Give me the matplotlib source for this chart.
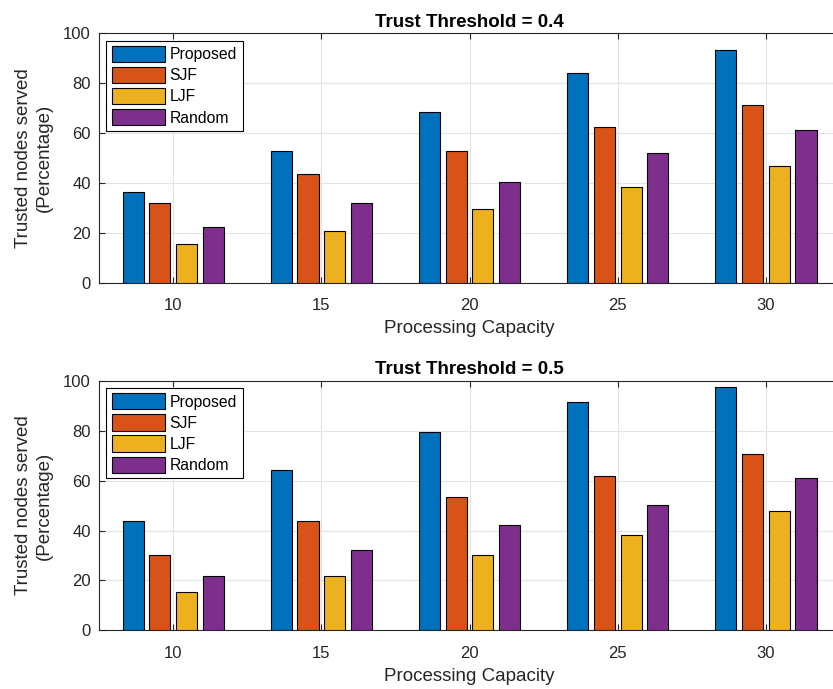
import matplotlib
matplotlib.use("Agg")
import matplotlib.pyplot as plt
import numpy as np

plt.rcParams["font.family"] = ["Liberation Sans", "DejaVu Sans"]

capacity = [10, 15, 20, 25, 30]
methods = ["Proposed", "SJF", "LJF", "Random"]
colors = ["#0072BD", "#D95319", "#EDB120", "#7E2F8E"]

# Trust threshold = 0.4
proposed_04 = [36.5, 52.7, 68.5, 84.3, 93.2]
sjf_04 = [32.0, 43.6, 53.0, 62.6, 71.2]
ljf_04 = [15.5, 21.0, 29.8, 38.3, 46.8]
random_04 = [22.6, 32.2, 40.6, 51.9, 61.5]

# Trust threshold = 0.5
proposed_05 = [43.9, 64.4, 79.5, 91.4, 97.4]
sjf_05 = [30.3, 44.0, 53.4, 61.9, 70.7]
ljf_05 = [15.3, 21.6, 30.2, 38.0, 47.8]
random_05 = [21.9, 32.2, 42.1, 50.3, 61.2]

panels = [
    ("Trust Threshold = 0.4", [proposed_04, sjf_04, ljf_04, random_04]),
    ("Trust Threshold = 0.5", [proposed_05, sjf_05, ljf_05, random_05]),
]

fig = plt.figure(figsize=(8.33, 6.89), dpi=100)
axes_pos = [[0.1189, 0.5893, 0.8896, 0.3621], [0.1189, 0.0852, 0.8896, 0.3621]]

x = np.array(capacity, dtype=float)
offsets = [-1.35, -0.45, 0.45, 1.35]
dark = "#262626"

for pos, (title, series) in zip(axes_pos, panels):
    ax = fig.add_axes(pos)
    for vals, off, c, name in zip(series, offsets, colors, methods):
        ax.bar(x + off, vals, width=0.71, color=c, edgecolor="black",
               linewidth=0.8, label=name, zorder=3)
    ax.set_xlim(7.5, 32.5)
    ax.set_ylim(0, 100)
    ax.set_xticks(capacity)
    ax.set_yticks([0, 20, 40, 60, 80, 100])
    ax.grid(True, color="#e3e3e3", linewidth=0.8, zorder=0)
    ax.tick_params(direction="in", top=True, right=True, length=4,
                   labelsize=12, colors=dark, labelcolor=dark)
    ax.tick_params(axis="x", pad=11)
    ax.tick_params(axis="y", pad=6)
    for sp in ax.spines.values():
        sp.set_color(dark)
        sp.set_linewidth(0.8)
    ax.set_title(title, fontsize=13.5, fontweight="bold", pad=5)
    ax.set_xlabel("Processing Capacity", fontsize=13.5, color=dark, labelpad=5)
    ax.set_ylabel("Trusted nodes served\n(Percentage)", fontsize=13.5,
                  color=dark, labelpad=7, linespacing=1.35)
    leg = ax.legend(loc="upper left", fontsize=11.3, frameon=True, fancybox=False,
                    edgecolor="black", framealpha=1, handlelength=3.4,
                    handleheight=1.2, labelspacing=0.3, handletextpad=0.3,
                    borderpad=0.35, borderaxespad=0.45)
    leg.get_frame().set_linewidth(0.8)

fig.savefig("out.png", dpi=100)
